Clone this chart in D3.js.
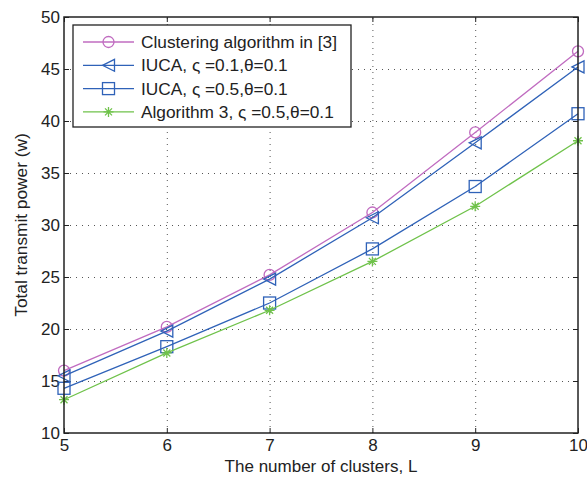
<!DOCTYPE html>
<html>
<head>
<meta charset="utf-8">
<script src="https://cdn.jsdelivr.net/npm/d3@7"></script>
<style>
	body { margin: 0; background: #fff; }
	text { font-family: "Liberation Sans", Arial, sans-serif; }
</style>
</head>
<body>
<script>
const clusters = [5, 6, 7, 8, 9, 10];
const clusteringRef = [16.0, 20.2, 25.2, 31.2, 38.9, 46.7];
const iucaA = [15.5, 19.8, 24.8, 30.7, 37.9, 45.2];
const iucaB = [14.3, 18.3, 22.5, 27.7, 33.7, 40.7];
const algo3 = [13.2, 17.7, 21.8, 26.5, 31.8, 38.1];
const yTicks = [10, 15, 20, 25, 30, 35, 40, 45, 50];
const labels = [
	'Clustering algorithm in [3]',
	'IUCA, \u03c2 =0.1,\u03b8=0.1',
	'IUCA, \u03c2 =0.5,\u03b8=0.1',
	'Algorithm 3, \u03c2 =0.5,\u03b8=0.1'
];

const series = [
	{ values: clusteringRef, color: '#c06cc0', marker: 'circle' },
	{ values: iucaA, color: '#2f62b8', marker: 'triangle' },
	{ values: iucaB, color: '#2f62b8', marker: 'square' },
	{ values: algo3, color: '#6fc24a', marker: 'star' }
];

const width = 587, height = 477;
const margin = { left: 64, right: 9, top: 17, bottom: 44 };
const fontSize = '17.3px';

let svg = d3.select('body').append('svg')
	.attr('width', width)
	.attr('height', height);

let x = d3.scaleLinear().domain([5, 10]).range([margin.left, width - margin.right]);
let y = d3.scaleLinear().domain([10, 50]).range([height - margin.bottom, margin.top]);

// grid
let grid = svg.append('g')
	.style('stroke', '#555')
	.style('stroke-width', 1)
	.style('stroke-dasharray', '1,5');
grid.selectAll('.gx').data(clusters.slice(1, -1)).enter().append('line')
	.attr('x1', d => x(d) + 0.5).attr('x2', d => x(d) + 0.5)
	.attr('y1', y(10)).attr('y2', y(50));
grid.selectAll('.gy').data(yTicks.slice(1, -1)).enter().append('line')
	.attr('x1', x(5)).attr('x2', x(10))
	.attr('y1', d => y(d) + 0.5).attr('y2', d => y(d) + 0.5);

// axes
let fmt = d3.format('d');
svg.append('g')
	.attr('transform', `translate(0,${y(10)})`)
	.call(d3.axisBottom(x).tickValues(clusters).tickFormat(fmt).tickSizeInner(-5).tickSizeOuter(0).tickPadding(6))
	.call(g => g.select('.domain').remove());
svg.append('g')
	.attr('transform', `translate(0,${y(50)})`)
	.call(d3.axisTop(x).tickValues(clusters).tickFormat('').tickSizeInner(-5).tickSizeOuter(0))
	.call(g => g.select('.domain').remove());
svg.append('g')
	.attr('transform', `translate(${x(5)},0)`)
	.call(d3.axisLeft(y).tickValues(yTicks).tickFormat(fmt).tickSizeInner(-5).tickSizeOuter(0).tickPadding(4))
	.call(g => g.select('.domain').remove());
svg.append('g')
	.attr('transform', `translate(${x(10)},0)`)
	.call(d3.axisRight(y).tickValues(yTicks).tickFormat('').tickSizeInner(-5).tickSizeOuter(0))
	.call(g => g.select('.domain').remove());
svg.selectAll('.tick line').style('stroke', '#222');
svg.selectAll('.tick text').style('font-size', '17px').style('fill', '#222');

// data lines
let line = d3.line().x((d, i) => x(clusters[i])).y(d => y(d));

function drawMarker(g, type, color, size) {
	if (type === 'circle') {
		g.append('circle').attr('r', size).style('fill', 'none').style('stroke', color);
	} else if (type === 'triangle') {
		g.append('path').attr('d', `M${-size},0L${size},${-size}L${size},${size}Z`)
			.style('fill', 'none').style('stroke', color);
	} else if (type === 'square') {
		g.append('rect').attr('x', -size).attr('y', -size).attr('width', 2 * size).attr('height', 2 * size)
			.style('fill', 'none').style('stroke', color);
	} else {
		let s = size, d = size * 0.7;
		g.append('path').attr('d', `M${-s},0L${s},0M0,${-s}L0,${s}M${-d},${-d}L${d},${d}M${-d},${d}L${d},${-d}`)
			.style('fill', 'none').style('stroke', color);
	}
}

const sizes = { circle: 5.5, triangle: 6, square: 6, star: 5 };

series.forEach(s => {
	svg.append('path')
		.datum(s.values)
		.attr('d', line)
		.style('fill', 'none')
		.style('stroke', s.color)
		.style('stroke-width', 1.3);
	s.values.forEach((v, i) => {
		let g = svg.append('g').attr('transform', `translate(${x(clusters[i])},${y(v)})`)
			.style('stroke-width', 1.3);
		drawMarker(g, s.marker, s.color, sizes[s.marker]);
	});
});

// frame
svg.append('rect')
	.attr('x', x(5)).attr('y', y(50))
	.attr('width', x(10) - x(5)).attr('height', y(10) - y(50))
	.style('fill', 'none').style('stroke', '#222').style('stroke-width', 1.5);

// legend
let legend = svg.append('g');
legend.append('rect')
	.attr('x', 73).attr('y', 25).attr('width', 278).attr('height', 102)
	.style('fill', '#fff').style('stroke', '#222').style('stroke-width', 1.3);
series.forEach((s, i) => {
	let ly = 42 + i * 23.3;
	legend.append('line')
		.attr('x1', 83).attr('x2', 134).attr('y1', ly).attr('y2', ly)
		.style('stroke', s.color).style('stroke-width', 1.3);
	let g = legend.append('g').attr('transform', `translate(108.5,${ly})`).style('stroke-width', 1.3);
	drawMarker(g, s.marker, s.color, sizes[s.marker]);
	legend.append('text')
		.attr('x', 141).attr('y', ly + 6)
		.style('font-size', fontSize).style('fill', '#222')
		.text(labels[i]);
});

// axis labels
svg.append('text')
	.attr('x', (x(5) + x(10)) / 2).attr('y', 472)
	.attr('text-anchor', 'middle')
	.style('font-size', '17px').style('fill', '#222')
	.text('The number of clusters, L');
svg.append('text')
	.attr('transform', `translate(27,${(y(10) + y(50)) / 2}) rotate(-90)`)
	.attr('text-anchor', 'middle')
	.style('font-size', fontSize).style('fill', '#222')
	.text('Total transmit power (w)');
</script>
</body>
</html>
